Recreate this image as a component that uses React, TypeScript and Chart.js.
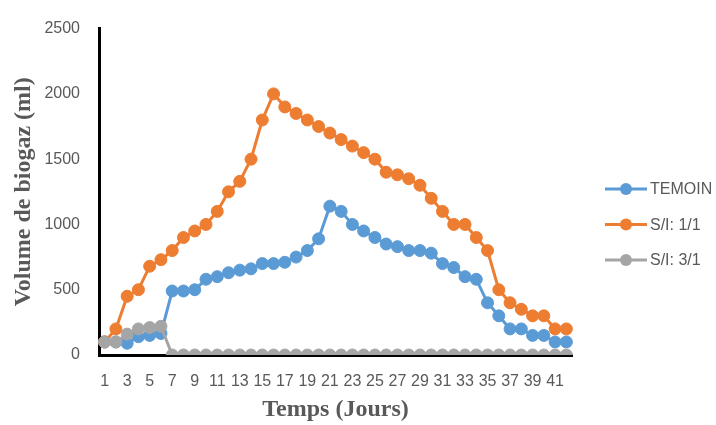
import React, { useEffect, useRef } from "react";
import { Chart, registerables } from "chart.js";

Chart.register(...registerables);

const days: string[] = [
  "1", "2", "3", "4", "5", "6", "7", "8", "9", "10",
  "11", "12", "13", "14", "15", "16", "17", "18", "19", "20",
  "21", "22", "23", "24", "25", "26", "27", "28", "29", "30",
  "31", "32", "33", "34", "35", "36", "37", "38", "39", "40",
  "41", "42",
];

const temoin: number[] = [
  100, 100, 90, 140, 150, 165, 490, 490, 500, 580,
  600, 630, 650, 660, 700, 700, 710, 750, 800, 890,
  1140, 1100, 1000, 950, 900, 850, 830, 800, 800, 780,
  700, 670, 600, 580, 400, 300, 200, 200, 150, 150,
  100, 100,
];

const si11: number[] = [
  100, 200, 450, 500, 680, 730, 800, 900, 950, 1000,
  1100, 1250, 1330, 1500, 1800, 2000, 1900, 1850, 1800, 1750,
  1700, 1650, 1600, 1550, 1500, 1400, 1380, 1350, 1300, 1200,
  1100, 1000, 1000, 900, 800, 500, 400, 350, 300, 300,
  200, 200,
];

const si31: number[] = [
  100, 100, 160, 200, 210, 220, 0, 0, 0, 0,
  0, 0, 0, 0, 0, 0, 0, 0, 0, 0,
  0, 0, 0, 0, 0, 0, 0, 0, 0, 0,
  0, 0, 0, 0, 0, 0, 0, 0, 0, 0,
  0, 0,
];

const seriesNames: string[] = ["TEMOIN", "S/I: 1/1", "S/I: 3/1"];
const seriesColors: string[] = ["#5B9BD5", "#ED7D31", "#A5A5A5"];
const yTicks: number[] = [0, 500, 1000, 1500, 2000, 2500];

const TEXT = "#595959";

const legendPlugin = {
  id: "sideLegend",
  afterDraw(chart: any) {
    const ctx = chart.ctx;
    const x0 = 605;
    const x1 = 647;
    const y0 = 189;
    const step = 35.5;
    ctx.save();
    chart.data.datasets.forEach((ds: any, i: number) => {
      const y = y0 + i * step;
      ctx.strokeStyle = ds.borderColor;
      ctx.lineWidth = 3;
      ctx.beginPath();
      ctx.moveTo(x0, y);
      ctx.lineTo(x1, y);
      ctx.stroke();
      ctx.fillStyle = ds.borderColor;
      ctx.beginPath();
      ctx.arc((x0 + x1) / 2, y, 6, 0, Math.PI * 2);
      ctx.fill();
      ctx.fillStyle = TEXT;
      ctx.font = "16px 'Liberation Sans'";
      ctx.textAlign = "left";
      ctx.textBaseline = "middle";
      ctx.fillText(ds.label, 650, y + 1);
    });
    ctx.restore();
  },
};

export default function App() {
  const ref = useRef<HTMLCanvasElement | null>(null);

  useEffect(() => {
    document.body.style.margin = "0";
    const canvas = ref.current;
    if (!canvas) return;
    const values = [temoin, si11, si31];
    const orders = [2, 1, 0];
    const chart = new Chart(canvas, {
      type: "line",
      data: {
        labels: days,
        datasets: values.map((v, i) => ({
          label: seriesNames[i],
          data: v,
          borderColor: seriesColors[i],
          backgroundColor: seriesColors[i],
          pointBackgroundColor: seriesColors[i],
          pointBorderColor: seriesColors[i],
          pointBorderWidth: 1,
          pointRadius: 6,
          borderWidth: 3,
          tension: 0,
          fill: false,
          order: orders[i],
        })),
      },
      options: {
        responsive: false,
        animation: false,
        devicePixelRatio: 1,
        layout: { padding: { top: 22, right: 144, left: 0, bottom: 0 } },
        plugins: {
          legend: { display: false },
          tooltip: { enabled: false },
        },
        scales: {
          x: {
            offset: true,
            grid: { display: false, drawTicks: false },
            border: { display: true, color: "#000000", width: 3 },
            ticks: {
              autoSkip: false,
              maxRotation: 0,
              minRotation: 0,
              padding: 17,
              color: TEXT,
              font: { family: "'Liberation Sans'", size: 16 },
              callback: (_v: any, idx: number) => (idx % 2 === 0 ? days[idx] : ""),
            },
            title: {
              display: true,
              text: "Temps (Jours)",
              color: TEXT,
              font: { family: "'Liberation Serif'", size: 24, weight: "bold", lineHeight: 1.2 },
              padding: { top: 0, bottom: 1 },
            },
            afterFit: (scale: any) => {
              scale.height = 70;
            },
          },
          y: {
            min: yTicks[0],
            max: yTicks[yTicks.length - 1],
            grid: { display: false, drawTicks: false },
            border: { display: true, color: "#000000", width: 3 },
            ticks: {
              stepSize: yTicks[1] - yTicks[0],
              padding: 19,
              color: TEXT,
              font: { family: "'Liberation Sans'", size: 16 },
              callback: (v: any) => String(v),
            },
            title: {
              display: true,
              text: "Volume de biogaz (ml)",
              color: TEXT,
              font: { family: "'Liberation Serif'", size: 24, weight: "bold", lineHeight: 1.2 },
              padding: { top: 9, bottom: 0 },
            },
            afterFit: (scale: any) => {
              scale.width = 99;
            },
          },
        },
      },
      plugins: [legendPlugin],
    });
    return () => chart.destroy();
  }, []);

  return (
    <div style={{ width: 716, height: 425 }}>
      <canvas ref={ref} width={716} height={425} style={{ display: "block" }} />
    </div>
  );
}
